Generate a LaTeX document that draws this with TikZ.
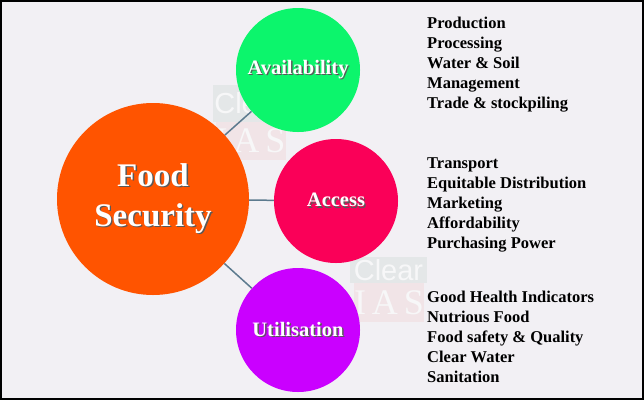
\documentclass[tikz,border=0pt]{standalone}
\usepackage{fontspec}
\setmainfont{Liberation Serif}
\setsansfont{Liberation Sans}
\definecolor{bgc}{RGB}{242,240,244}
\definecolor{orangec}{RGB}{255,84,0}
\definecolor{greenc}{RGB}{12,245,108}
\definecolor{pinkc}{RGB}{250,0,88}
\definecolor{purplec}{RGB}{202,0,255}
\definecolor{connc}{RGB}{92,122,142}
\definecolor{wmtop}{RGB}{228,231,232}
\definecolor{wmbot}{RGB}{241,228,231}
\definecolor{wmtxt}{RGB}{247,247,248}
\newcommand\shd[1]{\makebox[0pt][l]{\hspace{1.4pt}\raisebox{-1.4pt}{\textcolor{black!65}{#1}}}#1}
\tikzset{
  bub/.style={circle, inner sep=0pt, draw=none, text=white, font=\bfseries\fontsize{20.5}{24}\selectfont},
  conn/.style={draw=connc, line width=1.5pt},
  lst/.style={anchor=north west, inner sep=0pt, align=left, font=\bfseries\fontsize{16.5}{20}\selectfont},
  wmc/.style={fill=wmtop, text=wmtxt, inner sep=0pt, font=\sffamily\fontsize{29}{30}\selectfont},
  wmi/.style={fill=wmbot, text=wmtxt, inner sep=0pt, font=\fontsize{36}{36}\selectfont}
}
\begin{document}
\begin{tikzpicture}[x=1pt,y=-1pt]
\fill[bgc] (0,0) rectangle (644,400);
\useasboundingbox (0,0) rectangle (644,400);
% watermarks (behind)
\node[wmc, minimum width=72pt, minimum height=37pt] (w1a) at (249,103.5) {Clear};
\node[wmi, minimum width=65pt, minimum height=38pt] (w1b) at (250.5,141) {I\,A\,S};
\node[wmc, minimum width=77pt, minimum height=26pt] (w2a) at (388.5,270) {Clear};
\node[wmi, minimum width=62pt, minimum height=39pt] (w2b) at (389,302.5) {I\,A\,S};
% bubbles
\node[bub, fill=orangec, minimum size=192pt, font=\bfseries\fontsize{33}{40}\selectfont, align=center] (fs) at (153,199) {\shd{Food}\\\shd{Security}};
\node[bub, fill=greenc, minimum size=124pt] (av) at (298,70) {\shd{Availability}};
\node[bub, fill=pinkc, minimum size=124pt] (ac) at (336,201) {\shd{Access}};
\node[bub, fill=purplec, minimum size=124pt] (ut) at (298,330) {\shd{Utilisation}};
\draw[conn] (fs) -- (av);
\draw[conn] (fs) -- (ac);
\draw[conn] (fs) -- (ut);
\node[lst] (l1) at (427,17) {Production\\Processing\\Water \& Soil\\Management\\Trade \& stockpiling};
\node[lst] (l2) at (427,157) {Transport\\Equitable Distribution\\Marketing\\Affordability\\Purchasing Power};
\node[lst] (l3) at (427,291) {Good Health Indicators\\Nutrious Food\\Food safety \& Quality\\Clear Water\\Sanitation};
\draw[line width=2pt] (1,1) rectangle (643,399);
\end{tikzpicture}
\end{document}
